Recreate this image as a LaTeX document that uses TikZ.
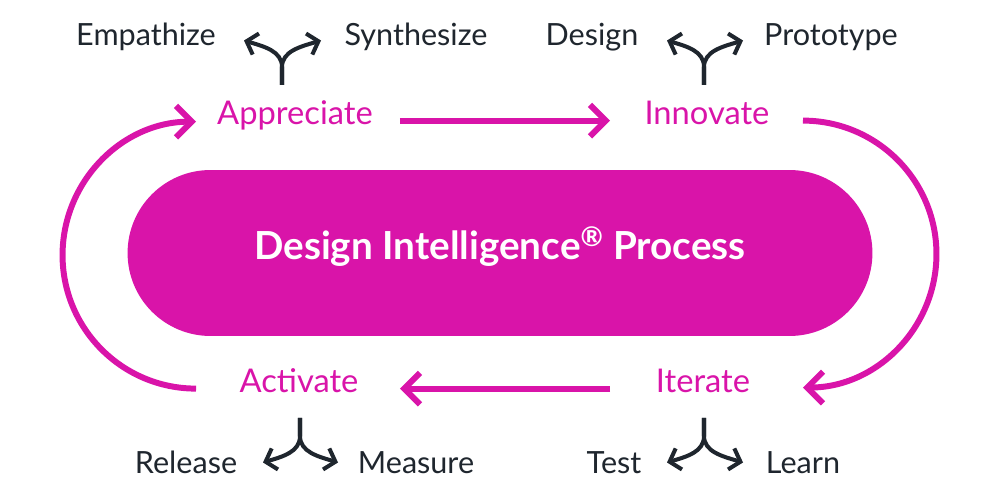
\documentclass[tikz,border=0pt]{standalone}
\usepackage{fontspec}
\setmainfont{Lato}
\usepackage{tikz}
\usetikzlibrary{arrows.meta,positioning}

\definecolor{dimagenta}{HTML}{D914A9}
\definecolor{diink}{HTML}{1F262E}

\tikzset{
  phase/.style={anchor=base, inner sep=0pt, text height=0.75em, text depth=0.25em,
                font=\fontsize{18.6pt}{20pt}\selectfont, text=dimagenta},
  substep/.style={anchor=base, inner sep=0pt, font=\fontsize{17.4pt}{19pt}\selectfont, text=diink},
  flow/.style={line width=3.4pt, draw=dimagenta,
               -{Straight Barb[length=9pt, width=18pt, sharp]}},
  forkline/.style={line width=2.3pt, draw=diink,
               -{Straight Barb[length=5.5pt, width=12.5pt, sharp]}}
}

\begin{document}
\begin{tikzpicture}[x=0.02cm, y=0.02cm]
\useasboundingbox (0,0) rectangle (1000,500);

% Central pill
\node (core) at (500,247) [fill=dimagenta, minimum width=14.9cm, minimum height=3.32cm,
      rounded corners=1.66cm, text=white, text height=0.72em, text depth=0pt,
      font=\fontsize{22pt}{24pt}\selectfont\bfseries]
      {Design Intelligence\textsuperscript{®} Process};

% Phases
\node (app) at (295,375) [phase] {Appreciate};
\node (inn) at (707,375) [phase] {Innovate};
\node (act) at (299,107) [phase] {Activate};
\node (itr) at (703,107) [phase] {Iterate};

% Sub-steps
\node (emp) at (146,454.3) [substep] {Empathize};
\node (syn) at (416,454.3) [substep] {Synthesize};
\node (des) at (592,454.3) [substep] {Design};
\node (pro) at (831,454.3) [substep] {Prototype};
\node (rel) at (186,26.7) [substep] {Release};
\node (mea) at (416,26.7) [substep] {Measure};
\node (tst) at (614,26.7) [substep] {Test};
\node (lrn) at (803,26.7) [substep] {Learn};

% Cycle
\draw[flow] ([xshift=2.1cm]app.center) -- ([xshift=-1.94cm]inn.center);
\draw[flow] ([xshift=1.92cm]inn.center) arc[start angle=90, end angle=-90, radius=2.67cm];
\draw[flow] ([xshift=-1.86cm]itr.center) -- ([xshift=2.02cm]act.center);
\draw[flow] ([xshift=-2.06cm]act.center) arc[start angle=270, end angle=90, radius=2.67cm];

% Forks
\coordinate (fapp) at (282,415);
\coordinate (finn) at (704,415);
\coordinate (fact) at (300,82);
\coordinate (fitr) at (704,82);

\draw[forkline] (fapp) -- ++(0,18) .. controls +(0,16) and +(20,-6) .. (244,459.5);
\draw[forkline] (fapp) -- ++(0,18) .. controls +(0,16) and +(-20,-6) .. (321,459.5);
\draw[forkline] (finn) -- ++(0,18) .. controls +(0,16) and +(20,-6) .. (667,459.5);
\draw[forkline] (finn) -- ++(0,18) .. controls +(0,16) and +(-20,-6) .. (743,459.5);
\draw[forkline] (fact) -- ++(0,-18) .. controls +(0,-16) and +(20,6) .. (263,37.5);
\draw[forkline] (fact) -- ++(0,-18) .. controls +(0,-16) and +(-20,6) .. (338,37.5);
\draw[forkline] (fitr) -- ++(0,-18) .. controls +(0,-16) and +(20,6) .. (667,37.5);
\draw[forkline] (fitr) -- ++(0,-18) .. controls +(0,-16) and +(-20,6) .. (743,37.5);

\end{tikzpicture}
\end{document}
